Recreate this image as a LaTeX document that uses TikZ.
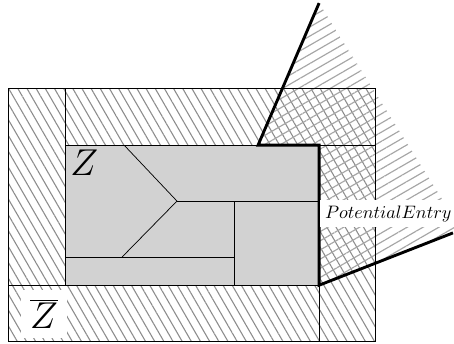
\documentclass[tikz,border=0pt]{standalone}
\usetikzlibrary{patterns.meta}

\begin{document}
\begin{tikzpicture}[
  ring/.style={pattern={Lines[angle=-60, distance=4.4pt, line width=0.6pt]}, pattern color=gray!90},
  cone/.style={pattern={Lines[angle=30, distance=4.4pt, line width=0.65pt]}, pattern color=gray!70},
  core/.style={fill=gray!35},
  wall/.style={line width=0.5pt},
  bound/.style={line width=1.6pt},
  lab/.style={fill=white, inner sep=3pt}
]
  \useasboundingbox (0,0) rectangle (8.85,-6.69);

  % outer and inner corners
  \coordinate (o1) at (0.16,-1.72);
  \coordinate (o2) at (7.31,-6.65);
  \coordinate (z1) at (1.27,-2.83);
  \coordinate (z2) at (6.22,-5.56);
  % entry cone
  \coordinate (top) at (6.22,-0.06);
  \coordinate (kink) at (5.03,-2.83);
  \coordinate (tip) at (8.83,-4.54);

  \fill[ring] (o1) rectangle (o2);
  \fill[cone] (kink) -- (top) -- (8.85,-4.25) -- (8.85,-4.54) -- (z2) -- cycle;
  \fill[core] (z1) rectangle (z2);

  \draw[wall] (o1) rectangle (o2);
  \draw[wall] (z1 |- o1) -- (z1 |- z2);
  \draw[wall] (o1 |- z2) -- (z2) -- (z2 |- o2);
  \draw[wall] (z1) -- (o2 |- z1);

  % cells inside Z
  \coordinate (fork) at (3.45,-3.92);
  \draw (2.42,-2.83) -- (fork) -- (2.38,-5.01);
  \draw (fork) -- (z2 |- fork);
  \draw (z1 |- 2.38,-5.01) -- (4.56,-5.01);
  \draw (4.56,-3.92) -- (4.56,-5.56);

  \draw[bound] (top) -- (kink) -- (z2 |- z1) -- (z2) -- (tip);

  \node[font=\huge] (zin) at (1.64,-3.18) {$Z$};
  \node[lab, font=\huge, inner sep=5pt] (zout) at (0.86,-6.12) {$\overline{Z}$};
  \node[lab] (entry) at (7.57,-4.17) {$PotentialEntry$};
\end{tikzpicture}
\end{document}
